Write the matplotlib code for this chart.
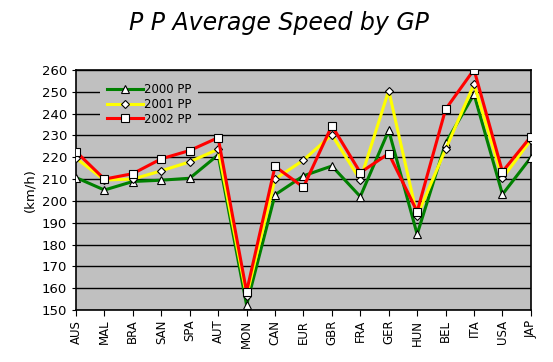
import numpy as np
import matplotlib.pyplot as plt

gps = ['AUS', 'MAL', 'BRA', 'SAN', 'SPA', 'AUT', 'MON', 'CAN', 'EUR',
       'GBR', 'FRA', 'GER', 'HUN', 'BEL', 'ITA', 'USA', 'JAP']
pp2000 = [210.7, 205.0, 208.9, 209.5, 210.4, 221.1, 152.3, 202.8, 211.5,
          216.0, 202.0, 232.3, 184.7, 226.5, 248.9, 203.0, 219.9]
pp2001 = [219.6, 209.6, 210.0, 213.8, 217.9, 223.7, 156.4, 210.0, 218.7,
          230.3, 209.6, 250.6, 193.1, 223.7, 253.5, 210.4, 228.0]
pp2002 = [222.6, 210.0, 212.5, 219.3, 223.1, 229.0, 158.4, 215.8, 206.3,
          234.5, 213.0, 221.7, 195.1, 242.0, 260.2, 213.4, 229.5]

fig = plt.figure(figsize=(5.53, 3.62), dpi=100)
ax = fig.add_axes([0.1374, 0.1436, 0.8226, 0.663])
ax.set_facecolor('#C0C0C0')

x = np.arange(len(gps))
ax.plot(x, pp2000, color='#008000', lw=2.2, marker='^', ms=5.5,
        mfc='white', mec='black', mew=0.8, label='2000 PP', zorder=3)
ax.plot(x, pp2001, color='#FFFF00', lw=2.2, marker='D', ms=4.5,
        mfc='white', mec='black', mew=0.8, label='2001 PP', zorder=4)
ax.plot(x, pp2002, color='#FF0000', lw=2.2, marker='s', ms=5.5,
        mfc='white', mec='black', mew=0.8, label='2002 PP', zorder=5)

ax.set_xlim(0, len(gps) - 1)
ax.set_ylim(150, 260)
ax.set_yticks(np.arange(150, 261, 10))
ax.set_xticks(x)
ax.set_xticklabels(gps, rotation=90, fontsize=8.5)
ax.tick_params(axis='y', labelsize=9.5, length=3)
ax.tick_params(axis='x', length=4, pad=3)
ax.yaxis.grid(True, color='black', lw=1)
ax.set_axisbelow(True)
for s in ax.spines.values():
    s.set_linewidth(1.2)

ax.set_ylabel('(km/h)', fontsize=9.5, labelpad=4)
fig.suptitle('P P Average Speed by GP', fontsize=17, style='italic',
             x=0.505, y=0.97)

leg = ax.legend(loc='upper left', bbox_to_anchor=(0.04, 1.0), fontsize=8.5,
                frameon=True, facecolor='#C0C0C0', edgecolor='none',
                framealpha=1, handlelength=3.0, labelspacing=0.15,
                borderpad=0.6, handletextpad=0.1)
leg.get_frame().set_linewidth(0)

fig.savefig('out.png', dpi=100)
